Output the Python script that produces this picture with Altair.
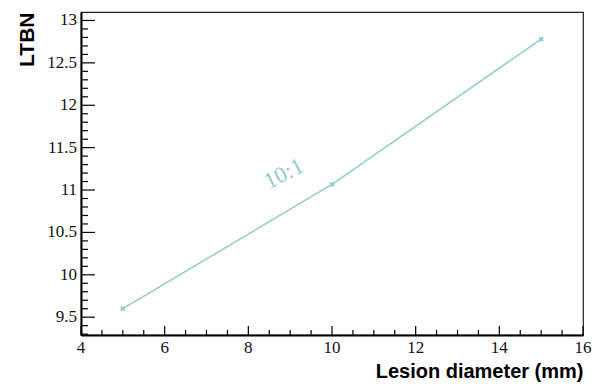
import altair as alt
import pandas as pd

diam = [5, 10, 15]
ltbn = [9.60, 11.067, 12.78]

x_major = [4, 6, 8, 10, 12, 14, 16]
x_minor = [4.5, 5, 5.5, 6.5, 7, 7.5, 8.5, 9, 9.5, 10.5, 11, 11.5,
           12.5, 13, 13.5, 14.5, 15, 15.5]
y_major = [9.5, 10, 10.5, 11, 11.5, 12, 12.5, 13]
y_minor = [9.3, 9.4, 9.6, 9.7, 9.8, 9.9, 10.1, 10.2, 10.3, 10.4, 10.6, 10.7,
           10.8, 10.9, 11.1, 11.2, 11.3, 11.4, 11.6, 11.7, 11.8, 11.9, 12.1,
           12.2, 12.3, 12.4, 12.6, 12.7, 12.8, 12.9]

label_text = ["10:1"]
label_x = [8.85]
label_y = [11.19]

W, H = 502, 323
color = "#93cccc"
SERIF = "Liberation Serif, Times New Roman, DejaVu Serif, serif"

xs = alt.Scale(domain=[4, 16], nice=False, zero=False)
ys = alt.Scale(domain=[9.29, 13.1], nice=False, zero=False)

df = pd.DataFrame({"d": diam, "v": ltbn})

xaxis = alt.Axis(values=x_major, ticks=False, grid=False, labels=False,
                 title="Lesion diameter (mm)",
                 titleAnchor="end", titleAlign="right", titleX=W, titleY=42,
                 titleBaseline="alphabetic", titleFontSize=20)
yaxis = alt.Axis(values=y_major, ticks=False, grid=False, labels=False,
                 title="LTBN", titleAngle=-90, titleFontSize=21,
                 titleAlign="right", titleAnchor="end", titleX=-48, titleY=0,
                 titleBaseline="alphabetic")

line = alt.Chart(df).mark_line(color=color, strokeWidth=1.5).encode(
    x=alt.X("d:Q", scale=xs, axis=xaxis), y=alt.Y("v:Q", scale=ys, axis=yaxis))
pts = alt.Chart(df).mark_point(shape="cross", angle=45, filled=True, color=color,
                               size=30, opacity=1).encode(x="d:Q", y="v:Q")

txt = alt.Chart(pd.DataFrame({"t": label_text, "x": label_x, "y": label_y})).mark_text(
    font=SERIF, fontSize=23, color=color, angle=333,
    align="center", baseline="middle").encode(x="x:Q", y="y:Q", text="t:N")

xmaj = alt.Chart(pd.DataFrame({"x": x_major})).mark_rule(color="#000", strokeWidth=1.2).encode(
    x="x:Q", y=alt.value(H), y2=alt.value(H - 9))
xmin = alt.Chart(pd.DataFrame({"x": x_minor})).mark_rule(color="#000", strokeWidth=1.2).encode(
    x="x:Q", y=alt.value(H), y2=alt.value(H - 5))
ymaj = alt.Chart(pd.DataFrame({"y": y_major})).mark_rule(color="#000", strokeWidth=1.2).encode(
    y="y:Q", x=alt.value(0), x2=alt.value(14))
ymin = alt.Chart(pd.DataFrame({"y": y_minor})).mark_rule(color="#000", strokeWidth=1.2).encode(
    y="y:Q", x=alt.value(0), x2=alt.value(7))

xlab = alt.Chart(pd.DataFrame({"x": x_major})).mark_text(
    font=SERIF, fontSize=17, color="#111", align="center", baseline="top").encode(
    x="x:Q", y=alt.value(H + 5), text=alt.Text("x:Q", format="d"))
ylab = alt.Chart(pd.DataFrame({"y": y_major})).mark_text(
    font=SERIF, fontSize=17, color="#111", align="right", baseline="middle").encode(
    y="y:Q", x=alt.value(-4), text=alt.Text("y:Q", format="~g"))

chart = alt.layer(line, xmin, xmaj, ymin, ymaj, pts, txt, xlab, ylab).properties(
    width=W, height=H,
    autosize=alt.AutoSizeParams(type="none"),
    padding={"left": 81, "top": 12, "right": 19, "bottom": 51},
    background="white",
).configure_view(stroke="#222", strokeWidth=1.2).configure_axis(
    domainColor="#000", domainWidth=2,
    titleFont="Liberation Sans", titleFontWeight="bold", titleColor="#000",
)

chart.save("out.html", embed_options={"renderer": "svg", "actions": False})
